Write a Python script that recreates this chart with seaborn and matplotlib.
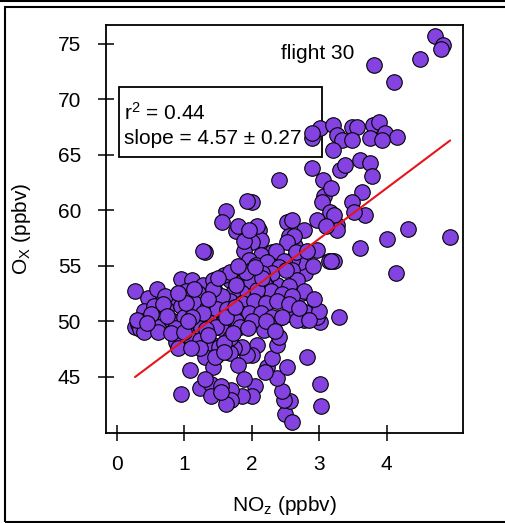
import numpy as np
import pandas as pd
import matplotlib as mplt
mplt.use("Agg")
import matplotlib.pyplot as plt
from matplotlib.patches import Rectangle
from matplotlib.lines import Line2D
import seaborn as sns

# NO_z (ppbv), O_X (ppbv), flight 30
noz = [4.72, 4.84, 4.81, 4.50, 3.81, 4.11,
       3.01, 3.21, 3.26, 3.48, 3.56, 3.80, 3.88, 3.97, 4.15, 2.89, 3.34, 3.48, 3.75, 3.93,
       3.21, 2.89, 3.31, 3.38, 3.60, 3.75, 3.78, 2.41, 3.05, 3.07, 3.04, 3.63, 3.48, 3.16,
       2.97, 3.26, 3.68, 4.32, 4.00, 4.94, 3.60, 2.52, 2.60, 2.77, 2.55, 2.64, 2.97, 2.11,
       2.13, 2.30, 2.01,
       3.51, 3.22, 3.22, 4.13, 3.29,
       3.01, 2.97, 2.79, 2.82, 3.01, 3.03, 2.49, 2.60, 2.57, 2.48, 2.45, 2.38, 2.52, 2.23,
       2.20, 2.30, 2.38, 2.41, 2.08, 2.01, 2.05, 2.01, 2.27, 2.41, 2.57, 2.77, 2.49, 2.75,
       2.63, 2.38, 2.20, 2.79, 2.72, 2.60, 3.14, 2.26, 2.11, 2.01,
       1.93, 1.86, 1.74, 1.67, 1.79, 1.89, 1.86, 1.69, 1.69, 2.18,
       1.77, 2.01, 2.63, 2.52, 1.89, 2.14, 2.36, 2.65, 2.82, 3.17, 3.26, 1.96, 2.06, 2.23,
       2.48, 2.60, 2.41, 2.30, 2.15, 1.96, 1.77, 1.67, 1.82, 1.99, 2.18, 2.67, 2.55, 2.28,
       2.08, 1.86, 1.71, 2.77, 2.45, 2.60, 1.67, 1.86, 2.04, 2.21, 2.38, 2.55, 3.00, 1.82,
       1.96, 2.14, 2.30, 2.45, 2.67, 2.85, 2.01, 2.21, 1.77,
       1.30, 0.27, 0.46, 0.59, 0.78, 0.95, 1.12, 1.03, 1.27, 1.42, 1.45, 1.59, 1.20, 1.56,
       0.71, 0.41, 0.73, 0.95, 1.15, 1.34, 1.49, 1.64, 0.34, 0.51, 0.61, 0.81, 1.00, 1.25,
       1.40, 0.86, 1.08, 1.25, 1.59, 1.55, 0.27,
       0.31, 0.34, 1.03, 1.12, 0.88, 1.23, 1.42, 1.30, 1.49, 1.08, 1.42, 0.95, 1.23, 1.40,
       1.55, 1.40, 1.62, 1.47, 1.67, 1.82, 1.27, 1.42, 1.67, 1.77, 1.91, 1.03, 1.12, 1.32,
       1.62, 1.52, 1.23,
       1.30, 1.55, 1.45, 0.90, 1.10, 1.59, 0.41, 0.61, 0.81, 1.00, 1.59,
       2.89, 3.17, 1.93, 1.62, 1.56, 1.79, 2.08, 3.10,
       1.28, 1.89, 1.96,
       0.55, 0.68, 0.90, 1.15, 1.35, 0.50, 0.75, 1.05, 1.35, 1.72, 1.95, 2.35, 2.70, 2.92,
       1.50, 1.80, 2.15, 0.30, 0.45, 1.75, 2.05, 2.50, 2.90]
ox = [75.75, 74.9, 74.5, 73.6, 73.1, 71.6,
      67.4, 67.7, 66.8, 67.55, 67.55, 67.7, 68.0, 67.0, 66.6, 66.5, 66.35, 66.35, 66.5, 66.35,
      65.45, 63.8, 63.65, 64.1, 64.5, 64.3, 63.1, 62.75, 62.7, 61.25, 60.7, 61.6, 60.7, 59.8,
      59.15, 58.7, 59.6, 58.3, 57.4, 57.6, 56.6, 58.9, 59.15, 58.25, 57.65, 56.75, 56.45, 58.25,
      57.35, 56.2, 60.7,
      59.8, 59.6, 55.45, 54.3, 50.4,
      49.95, 50.4, 50.85, 46.8, 44.3, 42.3, 41.6, 40.9, 42.75, 42.9, 43.65, 44.9, 45.9, 45.9,
      45.45, 46.7, 47.85, 48.6, 47.85, 46.95, 44.1, 43.2, 50.1, 50.3, 50.6, 50.1, 52.55, 52.55,
      53.3, 53.3, 53.55, 54.35, 55.3, 55.55, 55.4, 52.4, 52.65, 53.1,
      46.95, 47.65, 47.6, 47.1, 46.0, 44.8, 43.2, 43.8, 42.9, 49.2,
      58.1, 57.1, 57.65, 57.1, 56.3, 56.0, 56.3, 56.2, 56.3, 55.4, 58.25, 55.55, 55.1, 55.3,
      55.4, 54.6, 54.9, 54.35, 54.35, 54.5, 54.35, 53.75, 53.45, 53.6, 53.45, 53.75, 53.15, 52.7,
      52.8, 52.55, 52.4, 52.7, 52.4, 52.25, 51.8, 51.65, 51.8, 51.65, 51.8, 51.5, 50.9, 50.75,
      50.75, 50.75, 50.4, 50.4, 50.1, 50.1, 50.0, 50.0, 50.0,
      56.2, 52.7, 52.1, 52.9, 51.9, 53.8, 53.75, 52.7, 53.3, 53.75, 52.7, 54.2, 52.55, 52.25,
      52.25, 50.9, 51.05, 51.35, 51.65, 51.2, 51.05, 51.05, 50.0, 50.0, 49.5, 50.1, 50.4, 50.3,
      49.8, 49.4, 49.5, 49.4, 50.1, 49.4, 49.5,
      49.7, 49.25, 49.05, 48.3, 48.15, 48.3, 47.85, 46.8, 46.95, 45.6, 45.9, 43.4, 44.0, 44.3,
      44.1, 43.2, 42.5, 49.5, 48.5, 49.5, 50.75, 52.9, 54.4, 53.3, 54.4, 51.65, 50.4, 49.25,
      50.4, 47.7, 47.6,
      44.75, 43.6, 46.8, 47.6, 47.6, 48.05, 49.05, 49.05, 48.9, 49.05, 47.2,
      67.0, 62.0, 60.8, 59.9, 58.9, 58.55, 58.55, 58.55,
      56.3, 57.2, 58.25,
      51.4, 51.5, 52.5, 52.9, 52.0, 50.6, 50.5, 50.0, 48.7, 48.9, 49.4, 49.1, 51.2, 52.0,
      53.9, 55.0, 53.9, 50.1, 49.8, 51.3, 54.9, 54.6, 55.0]

# fit shown on the chart
r2 = 0.44
slope = 4.57
slope_err = 0.27
intercept = 43.72

xticks = [0, 1, 2, 3, 4]
yticks = [45, 50, 55, 60, 65, 70, 75]

df = pd.DataFrame({"NOz": noz, "Ox": ox})

sns.set_style("ticks")
plt.rcParams['font.family'] = ['Liberation Sans', 'DejaVu Sans']
plt.rcParams['mathtext.fontset'] = 'custom'
plt.rcParams['mathtext.rm'] = 'Liberation Sans'
plt.rcParams['mathtext.it'] = 'Liberation Sans:italic'
plt.rcParams['text.color'] = 'black'
plt.rcParams['axes.labelcolor'] = 'black'

fig = plt.figure(figsize=(5.06, 5.23), dpi=100)
ax = fig.add_axes([0.2095, 0.172, 0.7055, 0.780])

sns.scatterplot(data=df, x="NOz", y="Ox", ax=ax, s=125, color="#8443e0",
                edgecolor="black", linewidth=0.8, zorder=4, legend=False)

# fit line over the data range, drawn on top of the points
xfit = np.array([df.NOz.min(), df.NOz.max()])
ax.plot(xfit, intercept + slope * xfit, color="#e8141c", lw=1.5, zorder=5)

ax.set_xlim(-0.16, 5.13)
ax.set_ylim(39.9, 76.7)
ax.set_xticks(xticks)
ax.set_yticks(yticks)
ax.tick_params(direction="inout", length=12, width=1.1, labelsize=15, colors="black", pad=10)
ax.tick_params(axis="y", pad=12)
for sp in ax.spines.values():
    sp.set_visible(True)
    sp.set_linewidth(1.3)
    sp.set_color("black")

ax.set_xlabel("NO$_\\mathregular{z}$ (ppbv)", fontsize=15, labelpad=14)
ax.set_ylabel("O$_\\mathregular{X}$ (ppbv)", fontsize=15, labelpad=18)

# stats box
ax.add_patch(Rectangle((0.036, 0.676), 0.569, 0.172, transform=ax.transAxes,
                       fill=False, edgecolor="black", lw=1.3, zorder=2))
ax.text(0.05, 0.784, "r$^2$ = %.2f" % r2, transform=ax.transAxes, fontsize=15,
        va="center", ha="left", zorder=2)
ax.text(0.05, 0.721, "slope = %.2f \u00b1 %.2f" % (slope, slope_err), transform=ax.transAxes,
        fontsize=15, va="center", ha="left", zorder=2)
ax.text(0.594, 0.931, "flight 30", transform=ax.transAxes, fontsize=15,
        va="center", ha="center", zorder=2)

# outer frame of the picture
fig.add_artist(Rectangle((5 / 506, 1.5 / 523), 1.2, 514.5 / 523, transform=fig.transFigure,
                         fill=False, edgecolor="black", lw=1.5))
fig.add_artist(Line2D([0, 1], [522.2 / 523, 522.2 / 523], transform=fig.transFigure,
                      color="black", lw=1.5))

fig.savefig("out.png", dpi=100)
